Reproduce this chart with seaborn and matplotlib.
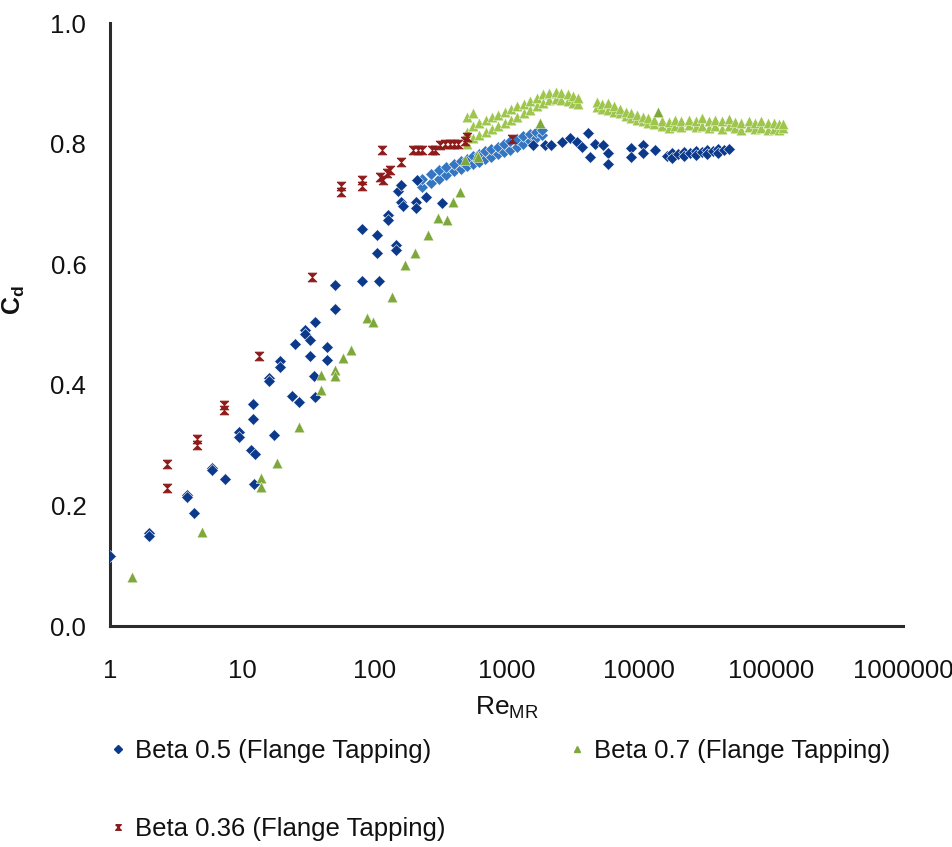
import matplotlib
matplotlib.use("Agg")
import matplotlib.pyplot as plt
from matplotlib.lines import Line2D
import numpy as np
import pandas as pd
import seaborn as sns

# ---- Discharge coefficient vs. Reynolds number (flange tappings) ----
# Beta 0.5 : scattered points
b05_re = [1.0, 1.97, 1.97, 3.85, 3.85, 4.3, 5.88, 5.88, 7.37, 9.5, 9.5, 12.1, 12.1,
          11.6, 12.6, 12.3, 17.5, 15.9, 15.9, 19.4, 19.4, 23.7, 27, 25.2, 29.7, 29.7,
          32.8, 35.5, 32.8, 35.1, 35.5, 43.6, 43.6, 50.3, 50.3, 81, 108, 81, 104, 104,
          147, 147, 127, 127, 150, 160, 160, 165, 209, 205, 205, 326, 244,
          1600, 1950, 2190, 2610, 3020, 3390, 3700, 4150, 4670, 5380, 4270, 5890, 5890,
          8830, 8830, 10800, 10800, 13300,
          16500, 18000, 18000, 20000, 22000, 22000, 24500, 27000, 27000, 30000, 33000,
          33000, 36500, 40000, 40000, 44000, 48000]
b05_cd = [0.116, 0.155, 0.150, 0.217, 0.214, 0.187, 0.262, 0.258, 0.243, 0.321, 0.314,
          0.368, 0.343, 0.292, 0.286, 0.235, 0.317, 0.411, 0.407, 0.439, 0.430, 0.382,
          0.372, 0.467, 0.491, 0.485, 0.474, 0.504, 0.447, 0.415, 0.380, 0.463, 0.441,
          0.566, 0.525, 0.572, 0.572, 0.658, 0.648, 0.619, 0.632, 0.624, 0.682, 0.673,
          0.722, 0.732, 0.704, 0.696, 0.740, 0.703, 0.694, 0.702, 0.712,
          0.798, 0.798, 0.798, 0.803, 0.809, 0.803, 0.795, 0.817, 0.800, 0.798, 0.778,
          0.784, 0.767, 0.792, 0.778, 0.798, 0.784, 0.789,
          0.780, 0.784, 0.777, 0.782, 0.786, 0.779, 0.784, 0.788, 0.781, 0.786, 0.789,
          0.783, 0.788, 0.791, 0.785, 0.789, 0.791]
# Beta 0.5 : densely sampled transition band
b05_band_re = [230, 230, 270, 270, 310, 310, 350, 350, 400, 400, 450, 450, 500, 500,
               560, 560, 620, 620, 690, 690, 770, 770, 860, 860, 960, 960, 1070, 1070,
               1200, 1200, 1340, 1340, 1500, 1500, 1680, 1680, 1850, 1850]
b05_band_cd = [0.728, 0.742, 0.735, 0.750, 0.742, 0.757, 0.748, 0.762, 0.754, 0.766,
               0.758, 0.771, 0.763, 0.775, 0.767, 0.779, 0.770, 0.783, 0.774, 0.787,
               0.778, 0.791, 0.782, 0.795, 0.786, 0.800, 0.790, 0.804, 0.795, 0.808,
               0.800, 0.812, 0.805, 0.816, 0.810, 0.820, 0.814, 0.822]

# Beta 0.7 : scattered points
b07_re = [1.47, 4.96, 13.9, 13.9, 18.3, 26.9, 39.2, 39.2, 50.3, 50.3, 58.2, 66.1,
          87.5, 98, 135, 170, 203, 256, 304, 352, 395, 444, 484, 594, 611, 1790, 14000]
b07_cd = [0.081, 0.156, 0.245, 0.230, 0.270, 0.330, 0.416, 0.391, 0.425, 0.415, 0.444,
          0.458, 0.510, 0.505, 0.546, 0.599, 0.618, 0.648, 0.676, 0.673, 0.704, 0.720,
          0.773, 0.781, 0.778, 0.834, 0.852]
# Beta 0.7 : dense bands
b07_band_re = [500, 500, 500, 560, 560, 560, 620, 620, 700, 700, 780, 780, 870, 870,
               970, 970, 1080, 1080, 1200, 1200, 1350, 1350, 1500, 1500, 1700, 1700,
               1900, 1900, 2100, 2100, 2350, 2350, 2600, 2600, 2900, 2900, 3200, 3200,
               3500, 3500,
               4800, 4800, 5300, 5300, 5900, 5900, 6500, 6500, 7200, 7200, 8000, 8000,
               8800, 8800, 9700, 9700, 10700, 10700, 11800, 11800, 13000, 13000,
               15000, 15000, 17000, 17000, 19000, 19000, 21000, 21000, 24000, 24000,
               27000, 27000, 30000, 30000, 34000, 34000, 38000, 38000, 43000, 43000,
               48000, 48000, 54000, 54000, 60000, 60000, 68000, 68000, 76000, 76000,
               85000, 85000, 95000, 95000, 105000, 105000, 115000, 115000, 123000, 123000]
b07_band_cd = [0.800, 0.820, 0.845, 0.810, 0.830, 0.850, 0.815, 0.835, 0.820, 0.840,
               0.825, 0.845, 0.830, 0.848, 0.835, 0.852, 0.840, 0.857, 0.845, 0.862,
               0.850, 0.866, 0.855, 0.870, 0.862, 0.876, 0.868, 0.882, 0.872, 0.884,
               0.874, 0.885, 0.872, 0.884, 0.870, 0.882, 0.868, 0.879, 0.866, 0.875,
               0.860, 0.869, 0.858, 0.866, 0.855, 0.868, 0.852, 0.862, 0.850, 0.858,
               0.846, 0.853, 0.842, 0.850, 0.840, 0.847, 0.838, 0.845, 0.835, 0.843,
               0.832, 0.840,
               0.829, 0.838, 0.826, 0.836, 0.830, 0.840, 0.828, 0.837, 0.831, 0.840,
               0.827, 0.838, 0.830, 0.842, 0.826, 0.837, 0.829, 0.840, 0.825, 0.837,
               0.830, 0.841, 0.826, 0.836, 0.823, 0.835, 0.827, 0.838, 0.824, 0.835,
               0.826, 0.837, 0.823, 0.834, 0.825, 0.835, 0.822, 0.832, 0.826, 0.833]

# Beta 0.36
b036_re = [2.72, 2.72, 4.58, 4.58, 7.28, 7.28, 13.5, 33.9, 55.6, 55.6, 80.2, 80.2,
           110, 117, 124, 131, 113.5, 159, 197, 215, 228, 271, 287, 313, 340, 373,
           400, 431, 499, 484, 1100]
b036_cd = [0.268, 0.229, 0.310, 0.300, 0.367, 0.358, 0.448, 0.579, 0.729, 0.720,
           0.740, 0.730, 0.745, 0.740, 0.751, 0.756, 0.789, 0.770, 0.789, 0.789, 0.789,
           0.789, 0.789, 0.798, 0.800, 0.800, 0.800, 0.800, 0.811, 0.805, 0.808]

x_ticks = [1, 10, 100, 1000, 10000, 100000, 1000000]
x_tick_labels = ["1", "10", "100", "1000", "10000", "100000", "1000000"]
y_ticks = [0.0, 0.2, 0.4, 0.6, 0.8, 1.0]
y_tick_labels = ["0.0", "0.2", "0.4", "0.6", "0.8", "1.0"]

series_labels = ["Beta 0.5 (Flange Tapping)", "Beta 0.7 (Flange Tapping)",
                 "Beta 0.36 (Flange Tapping)"]

# ---- styling ----
sns.set_theme(style="white")
plt.rcParams["font.family"] = ["Liberation Sans", "DejaVu Sans"]
plt.rcParams["mathtext.fontset"] = "custom"
plt.rcParams["mathtext.rm"] = "Liberation Sans"
plt.rcParams["mathtext.bf"] = "Liberation Sans:bold"
plt.rcParams["text.color"] = "#111111"

navy = "#0b3a8c"
light_blue = "#3576c2"
green = "#7ea83a"
light_green = "#9ec64c"
dark_red = "#8e1b1b"

hourglass = [(-1, 1), (1, 1), (-1, -1), (1, -1), (-1, 1)]

fig = plt.figure(figsize=(9.53, 8.47), dpi=100)
ax = fig.add_axes([0.1154, 0.2609, 0.8321, 0.7119])

df05 = pd.DataFrame({"re": b05_re, "cd": b05_cd})
df05b = pd.DataFrame({"re": b05_band_re, "cd": b05_band_cd})
df07 = pd.DataFrame({"re": b07_re, "cd": b07_cd})
df07b = pd.DataFrame({"re": b07_band_re, "cd": b07_band_cd})
df036 = pd.DataFrame({"re": b036_re, "cd": b036_cd})

kw_d = dict(marker="D", s=36, edgecolor="white", linewidth=0.4, ax=ax, legend=False, zorder=3)
sns.scatterplot(data=df05b, x="re", y="cd", color=light_blue, **kw_d)
sns.scatterplot(data=df05, x="re", y="cd", color=navy, **kw_d)

kw_t = dict(marker="^", s=58, edgecolor="white", linewidth=0.3, ax=ax, legend=False, zorder=4)
sns.scatterplot(data=df07b, x="re", y="cd", color=light_green, **kw_t)
sns.scatterplot(data=df07, x="re", y="cd", color=green, **kw_t)

sns.scatterplot(data=df036, x="re", y="cd", color=dark_red, marker=hourglass, s=40,
                edgecolor=dark_red, linewidth=0.6, ax=ax, legend=False, zorder=5)

ax.set_xscale("log")
ax.set_xlim(1, 1000000)
ax.set_ylim(0, 1.0)
ax.set_xticks(x_ticks)
ax.set_xticklabels(x_tick_labels)
ax.xaxis.set_minor_locator(matplotlib.ticker.NullLocator())
ax.set_yticks(y_ticks)
ax.set_yticklabels(y_tick_labels)

for side in ["top", "right"]:
    ax.spines[side].set_visible(False)
for side in ["left", "bottom"]:
    ax.spines[side].set_color("#2b2b2b")
    ax.spines[side].set_linewidth(2.2)

ax.tick_params(axis="both", which="major", direction="out", length=5, width=1.2,
               color="#777777", labelsize=18.5, labelcolor="#111111")
ax.tick_params(axis="y", pad=12)
ax.tick_params(axis="x", pad=19)

ax.set_xlabel(r"$\mathrm{Re}_{\mathrm{MR}}$", fontsize=19, labelpad=8, color="#111111")
ax.set_ylabel(r"$\mathbf{C}_{\mathbf{d}}$", fontsize=18, color="#111111")
ax.yaxis.set_label_coords(-0.105, 0.54)

handles = [
    Line2D([], [], ls="", marker="D", color=navy, markersize=4),
    Line2D([], [], ls="", marker=hourglass, color=dark_red, markersize=4),
    Line2D([], [], ls="", marker="^", color=green, markersize=5),
]
labels = [series_labels[0], series_labels[2], series_labels[1]]
leg = fig.legend(handles, labels, ncol=2, loc="upper left", bbox_to_anchor=(0.117, 0.127),
                 frameon=False, fontsize=18.5, handlelength=0.5, handletextpad=0.4,
                 columnspacing=4.9, labelspacing=2.1, borderaxespad=0, borderpad=0)
for t in leg.get_texts():
    t.set_color("#111111")

fig.savefig("out.png", dpi=100)
